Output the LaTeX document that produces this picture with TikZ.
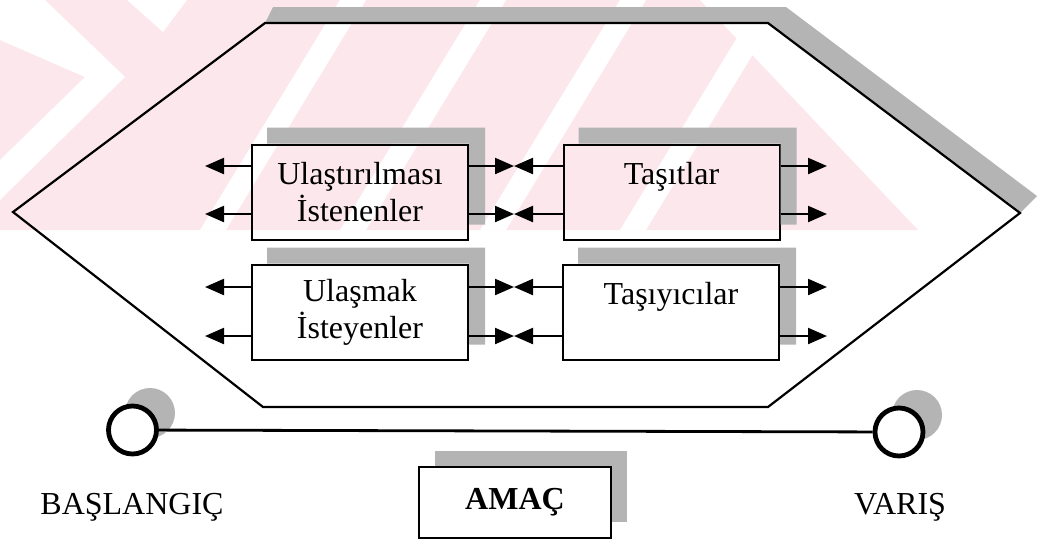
\documentclass[tikz,border=0pt]{standalone}
\usepackage{fontspec}
\setmainfont{Liberation Serif}
\usetikzlibrary{arrows.meta}
\definecolor{wmpink}{RGB}{252,231,236}
\definecolor{shadowgray}{RGB}{180,180,180}
\begin{document}
\begin{tikzpicture}[x=0.5pt,y=-0.5pt,
  txt/.style={font=\fontsize{16}{18.5}\selectfont},
  box/.style={draw, line width=1pt, minimum width=108pt, minimum height=47.5pt,
    inner sep=0pt, align=center, txt},
  arr/.style={-{Triangle[length=9.5pt,width=8pt]}, line width=1.1pt},
  circ/.style={circle, draw, line width=2.4pt, minimum size=24pt, inner sep=0pt, fill=white},
  lab/.style={txt, inner sep=0pt},
  shadowfill/.style={fill=shadowgray}
]
\useasboundingbox (0,0) rectangle (1041,543);
% watermark
\fill[wmpink] (0,0) -- (700,0) -- (918,230) -- (0,230) -- cycle;
\fill[white] (0,0) -- (45,0) -- (125,77) -- (0,200) -- (0,160) -- (85,77) -- (0,40) -- cycle;
\fill[white] (127,0) -- (187,0) -- (163,32) -- cycle;
\foreach \x in {200,340,480,620} {
  \fill[white] (\x,230) -- (\x+26,230) -- (\x+26+140,0) -- (\x+140,0) -- cycle;
}
% hexagon shadow and outline
\fill[shadowfill] (265,23) -- (273,7) -- (786,7) -- (1037,196) -- (1020,213) -- (768,23) -- cycle;
\draw[line width=1.1pt, line join=miter] (13,212) -- (265,23) -- (768,23) -- (1020,213) -- (768,407) -- (263,407) -- cycle;
% boxes
\node[box] (b1) at (360,192) {Ulaştırılması\\İstenenler};
\node[box] (b2) at (671.5,192) {Taşıtlar\\\mbox{}};
\node[box] (b3) at (360,312) {Ulaşmak\\İsteyenler};
\node[box] (b4) at (671,312) {Taşıyıcılar\\\mbox{}};
\foreach \n in {b1,b2,b3,b4} {
  \fill[shadowfill] ([shift={(16,-16)}]\n.north west) -| ([shift={(16,-16)}]\n.south east)
     -| (\n.north east) -| cycle;
}
% arrow end points
\coordinate (L1) at (205,166); \coordinate (L2) at (205,214);
\coordinate (M1) at (514,166); \coordinate (M2) at (514,214);
\coordinate (R1) at (827,166); \coordinate (R2) at (827,214);
\coordinate (L3) at (205,287); \coordinate (L4) at (205,336);
\coordinate (M3) at (514,287); \coordinate (M4) at (514,336);
\coordinate (R3) at (827,287); \coordinate (R4) at (827,336);
\foreach \a/\m/\r/\l/\rr in {L1/M1/R1/b1/b2, L2/M2/R2/b1/b2, L3/M3/R3/b3/b4, L4/M4/R4/b3/b4} {
  \draw[arr] (\l.west |- \a) -- (\a);
  \draw[arr] (\l.east |- \m) -- (\m);
  \draw[arr] (\rr.west |- \m) -- (\m);
  \draw[arr] (\rr.east |- \r) -- (\r);
}
% start / end
\fill[shadowfill] (150,413) circle[radius=12.5pt];
\fill[shadowfill] (917,415) circle[radius=12.5pt];
\node[circ] (c1) at (132.5,430) {};
\node[circ] (c2) at (899,432) {};
\draw[line width=1.4pt] (c1) -- (c2);
\node[lab] (start) at (132,507) {BAŞLANGIÇ};
\node[lab] (end) at (900,507) {VARIŞ};
% goal
\fill[shadowfill] (435,451) rectangle (627,522);
\node[draw, line width=1pt, fill=white, minimum width=96pt, minimum height=35.5pt, inner sep=0pt,
  font=\fontsize{16}{18.5}\selectfont\bfseries] (goal) at (515,502.5) {AMAÇ};
\end{tikzpicture}
\end{document}
